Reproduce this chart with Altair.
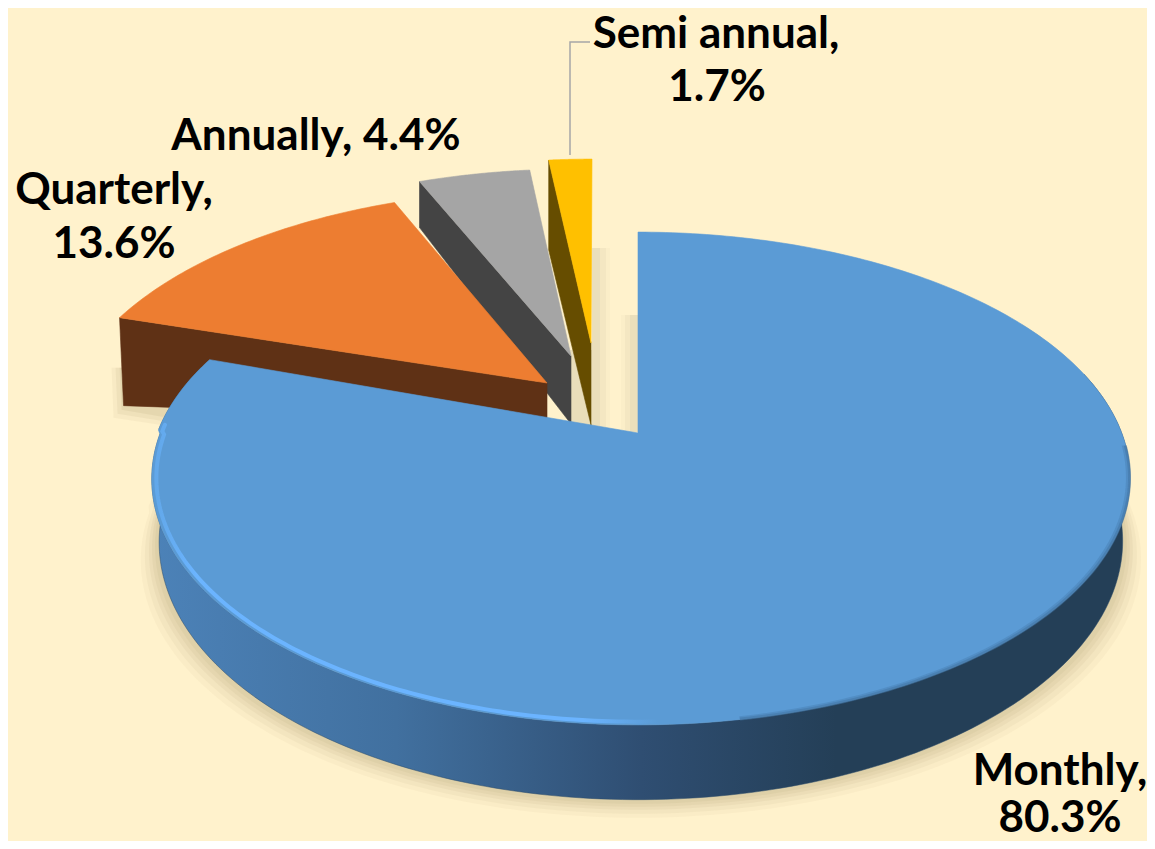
import numpy as np
import pandas as pd
import altair as alt

categories = ["Monthly", "Quarterly", "Annually", "Semi annual"]
shares = [80.3, 13.6, 4.4, 1.7]

BG = "#FFF2CC"
TOP_COLORS = ["#5B9BD5", "#ED7D31", "#A5A5A5", "#FFC000"]
WALL_COLORS = ["#4C82B8", "#5F3115", "#444444", "#664D00"]
CX, CY, A, C, K = 638.0, 433.0, 480.7, 238.0, 0.1846

sx = alt.Scale(domain=[8, 1147], nice=False, zero=False)
sy = alt.Scale(domain=[841, 8], nice=False, zero=False)


def proj(theta, r=1.0):
    t = np.radians(theta)
    X, Y = r * np.sin(t), r * np.cos(t)
    w = 1 + K * Y
    # the outer rim sits a little right of the apex on its sides and front-left
    skew = np.where((Y < 0) | (X > 0), 3.0 * (1 - Y * Y), 0.0)
    return CX + A * X / w + skew, CY - C * Y / w, w


def shape(xs, ys, **mark):
    xs, ys = np.asarray(xs, float), np.asarray(ys, float)
    df = pd.DataFrame({"x": xs, "y": ys, "i": np.arange(len(xs))})
    return alt.Chart(df).mark_line(**mark).encode(
        x=alt.X("x:Q", scale=sx, axis=None),
        y=alt.Y("y:Q", scale=sy, axis=None),
        order=alt.Order("i:Q"),
    )


def closed(xs, ys, color, **mark):
    xs, ys = list(xs), list(ys)
    return shape(xs + xs[:1], ys + ys[:1], fill=color, stroke=mark.pop("stroke", color),
                 strokeWidth=mark.pop("strokeWidth", 0.6), **mark)


def grad(stops):
    return alt.LinearGradient(
        gradient="linear", x1=0, x2=1, y1=0, y2=0,
        stops=[alt.GradientStop(color=c, offset=o) for o, c in stops],
    )


# slice angles from the shares (clockwise from 12 o'clock)
edges = np.concatenate([[0], np.cumsum(shares)]) * 3.6
# displacement of each exploded slice: rim (dx, dy), apex (dx, dy)
rim_shift = [(0, 0), (-90, -42), (-65, -63), (-46, -73)]
apex_shift = [(0, 0), (-91, -50), (-67, -77), (-47, -90)]
wall_depth = [None, (88, 38), (46, 68), (90, 82)]

layers = []


def bottom_ring(thetas, extra=0.0):
    x, y, w = proj(thetas)
    d = 61.0 / w
    return CX + 3 + (x - CX - 3) * (0.985 + extra / 480.0), y + d + extra


# ground shadow of the main slice
th = np.linspace(60, 300, 160)
for e, op in [(18, 0.10), (14, 0.14), (10, 0.18), (7, 0.22), (4, 0.25)]:
    bx, by = bottom_ring(th, e)
    tx, ty, _ = proj(th)
    layers.append(closed(list(tx) + list(bx[::-1]), list(ty) + list(by[::-1]), "#CDBE95",
                         opacity=op, strokeWidth=0))
# soft shadows in the gaps behind the small slices
for x0, x1, y0, y1, op in [(592, 600, 248, 432, 0.75), (600, 606, 248, 432, 0.4),
                           (606, 610, 248, 432, 0.15), (630, 638, 315, 432, 0.75),
                           (625, 630, 315, 432, 0.4), (621, 625, 315, 432, 0.15),
                           (570, 592, 350, 432, 0.8)]:
    layers.append(closed([x0, x1, x1, x0], [y0, y0, y1, y1], "#E3D8B5", opacity=op, strokeWidth=0))

# exploded slices, back to front
for idx in [3, 2, 1]:
    a0, a1 = edges[idx], edges[idx + 1]
    th = np.linspace(a0, a1, 60)
    x, y, _ = proj(th)
    (rdx, rdy), (adx, ady) = rim_shift[idx], apex_shift[idx]
    rx, ry = x + rdx, y + rdy
    ax, ay = CX + adx, CY + ady
    d_rim, d_apex = wall_depth[idx]
    if idx == 1:  # little ground shadow under the outer corner
        for e, op in [(12, 0.14), (8, 0.2), (4, 0.28)]:
            layers.append(closed([rx[0] + 4 - e, rx[0] + 6 - e, rx[0] + 60, rx[0] + 60],
                                 [ry[0] + 50, ry[0] + d_rim + e, ry[0] + d_rim + 10 + e, ry[0] + 50],
                                 "#CDBE95", opacity=op, strokeWidth=0))
    # cut face running from the rim's first point to the apex
    wx = [rx[0], ax, ax, rx[0] + (4 if idx == 1 else 0)]
    wy = [ry[0], ay, ay + d_apex, ry[0] + d_rim]
    layers.append(closed(wx, wy, WALL_COLORS[idx]))
    # top face
    layers.append(closed(list(rx) + [ax], list(ry) + [ay], TOP_COLORS[idx]))

# main slice: curved outer wall, then top face, then rim highlight
a0, a1 = edges[0], edges[1]
th = np.linspace(75, 287, 200)
tx, ty, _ = proj(th)
bx, by = bottom_ring(th)
wall = grad([(0.0, "#4C82B8"), (0.25, "#41709F"), (0.5, "#2F4E72"),
             (0.7, "#243F57"), (1.0, "#243F57")])
layers.append(shape(list(tx) + list(bx[::-1]) + [tx[0]], list(ty) + list(by[::-1]) + [ty[0]],
                    fill=wall, stroke="#2A4A68", strokeWidth=0.5))

th = np.linspace(a0, a1, 300)
x, y, _ = proj(th)
layers.append(closed(list(x) + [CX], list(y) + [CY], TOP_COLORS[0]))

# blurred dark fringe on the right part of the rim
th = np.linspace(93, 170, 80)
x, y, _ = proj(th, 0.999)
layers.append(shape(x, y, stroke="#3F6F9C", strokeWidth=3, opacity=0.6))
x, y, _ = proj(th, 0.995)
layers.append(shape(x, y, stroke="#4A82B5", strokeWidth=3, opacity=0.5))
# light rim on the front-left part, fading towards the front
th = np.linspace(178, 272, 120)
x, y, _ = proj(th, 0.991)
rim = grad([(0.0, "#62A8EA"), (0.08, "#6BB4FF"), (0.85, "#6BB4FF"), (1.0, "#5B9BD5")])
layers.append(shape(x, y, stroke=rim, strokeWidth=4, strokeCap="round"))

# leader line to the smallest slice
layers.append(shape([570, 570, 590], [155, 42, 42], stroke="#A6A6A6", strokeWidth=1.5))

# labels
label_rows = [
    (f"{categories[3]},", 716, 35),
    (f"{shares[3]}%", 717, 88),
    (f"{categories[2]}, {shares[2]}%", 316, 137),
    (f"{categories[1]},", 114, 191),
    (f"{shares[1]}%", 114, 245),
    (f"{categories[0]},", 1060, 772),
    (f"{shares[0]}%", 1060, 819),
]
labels = pd.DataFrame(label_rows, columns=["text", "x", "y"])
layers.append(
    alt.Chart(labels).mark_text(font="Lato", fontWeight="bold", fontSize=44, color="#000000",
                                align="center", baseline="middle").encode(
        x=alt.X("x:Q", scale=sx, axis=None),
        y=alt.Y("y:Q", scale=sy, axis=None),
        text="text:N",
    )
)

chart = alt.layer(*layers).properties(
    width=1139, height=833, background=BG, padding=0,
    autosize=alt.AutoSizeParams(type="none"),
).configure_view(stroke=None)

chart.save("out.html", embed_options={"renderer": "svg", "actions": False})
